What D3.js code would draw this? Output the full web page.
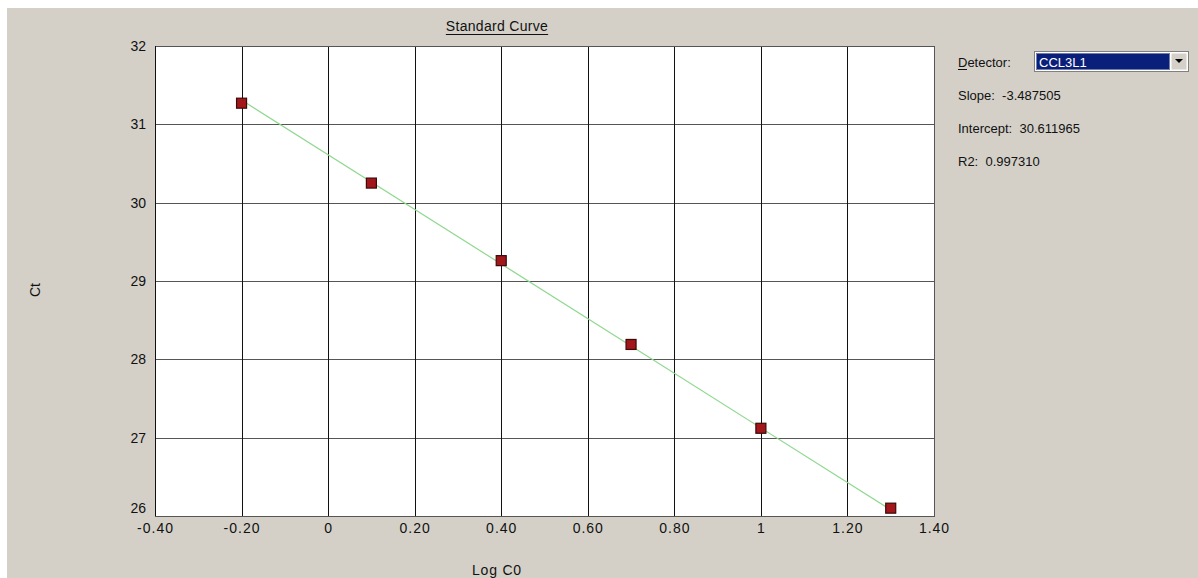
<!DOCTYPE html>
<html>
<head>
<meta charset="utf-8">
<script src="https://cdn.jsdelivr.net/npm/d3@7"></script>
<style>
	body { margin: 0; background: #fff; }
	text { font-family: "Liberation Sans", Arial, sans-serif; fill: #111; }
</style>
</head>
<body>
<div id="chart"></div>
<script>
// data
let logC0 = [-0.2, 0.1, 0.4, 0.7, 1.0, 1.3];
let ct = [31.27, 30.25, 29.26, 28.19, 27.12, 26.1];
let xTicks = [-0.4, -0.2, 0, 0.2, 0.4, 0.6, 0.8, 1, 1.2, 1.4];
let xTickLabels = ["-0.40", "-0.20", "0", "0.20", "0.40", "0.60", "0.80", "1", "1.20", "1.40"];
let yTicks = [26, 27, 28, 29, 30, 31, 32];
let yTickLabels = ["26", "27", "28", "29", "30", "31", "32"];
let slope = -3.487505;
let intercept = 30.611965;
let stats = ["Slope:  -3.487505", "Intercept:  30.611965", "R2:  0.997310"];
let detector = "CCL3L1";

function standardCurve() {
	let container = "#chart",
		window_w = 1198,
		window_h = 578;

	let margin = {top: 46, left: 155, right: 264, bottom: 62},
		width = window_w - (margin.left + margin.right),
		height = window_h - (margin.top + margin.bottom);

	let svg = d3.select(container)
		.append("svg")
		.attr("width", window_w)
		.attr("height", window_h)

	// grey window background
	svg.append("rect")
		.attr("x", 7)
		.attr("y", 8)
		.attr("width", window_w - 7)
		.attr("height", window_h - 8)
		.attr("fill", "#d4d0c8")

	let plot = svg.append("g")
		.attr("transform", "translate(" + margin.left + "," + margin.top + ")");

	let x = d3.scaleLinear()
		.domain([-0.4, 1.4])
		.range([0, width])

	let y = d3.scaleLinear()
		.domain([26, 32])
		.range([height, 0])

	plot.append("rect")
		.attr("width", width)
		.attr("height", height)
		.attr("fill", "#fff")

	// horizontal grid
	plot.append("g")
		.selectAll("line")
		.data(yTicks)
		.enter()
		.append("line")
		.attr("x1", 0)
		.attr("x2", width)
		.attr("y1", d => Math.round(y(d)) + 0.5)
		.attr("y2", d => Math.round(y(d)) + 0.5)
		.attr("stroke", "#555")

	// vertical grid
	plot.append("g")
		.selectAll("line")
		.data(xTicks)
		.enter()
		.append("line")
		.attr("x1", d => Math.round(x(d)) + 0.5)
		.attr("x2", d => Math.round(x(d)) + 0.5)
		.attr("y1", 0)
		.attr("y2", height)
		.attr("stroke", "#111")

	// frame
	plot.append("rect")
		.attr("x", 0.5)
		.attr("y", 0.5)
		.attr("width", width)
		.attr("height", height)
		.attr("fill", "none")
		.attr("stroke", "#555")
	plot.append("line")
		.attr("x1", 0.5).attr("x2", 0.5)
		.attr("y1", 0).attr("y2", height)
		.attr("stroke", "#111")

	// x axis labels
	let xAxis = d3.axisBottom(x)
		.tickValues(xTicks)
		.tickFormat((d, i) => xTickLabels[i])
		.tickSize(0)
		.tickPadding(7)
	let gx = plot.append("g")
		.attr("transform", "translate(0," + height + ")")
		.call(xAxis)
	gx.select(".domain").remove()
	gx.selectAll("text")
		.attr("font-size", 14)
		.attr("letter-spacing", "1px")
		.attr("font-family", "Liberation Sans, Arial, sans-serif")
		.attr("fill", "#111")

	// y axis labels
	let yAxis = d3.axisLeft(y)
		.tickValues(yTicks)
		.tickFormat((d, i) => yTickLabels[i])
		.tickSize(0)
		.tickPadding(9)
	let gy = plot.append("g").call(yAxis)
	gy.select(".domain").remove()
	gy.selectAll("text")
		.attr("font-size", 14)
		.attr("font-family", "Liberation Sans, Arial, sans-serif")
		.attr("fill", "#111")
	gy.selectAll(".tick").filter(d => d === 26).select("text").attr("dy", "-0.25em")

	// fitted line
	let xs = d3.extent(logC0)
	plot.append("line")
		.attr("x1", x(xs[0]))
		.attr("y1", y(slope * xs[0] + intercept))
		.attr("x2", x(xs[1]))
		.attr("y2", y(slope * xs[1] + intercept))
		.attr("stroke", "#8fd88f")
		.attr("stroke-width", 1.2)

	// points
	let size = 10;
	plot.append("g")
		.selectAll("rect")
		.data(logC0)
		.enter()
		.append("rect")
		.attr("x", d => x(d) - size / 2)
		.attr("y", (d, i) => y(ct[i]) - size / 2)
		.attr("width", size)
		.attr("height", size)
		.attr("fill", "#a3161a")
		.attr("stroke", "#3a0a0a")
		.attr("stroke-width", 1.2)

	// title
	let title = svg.append("text")
		.attr("x", 497)
		.attr("y", 31)
		.attr("text-anchor", "middle")
		.attr("font-size", 14)
		.attr("letter-spacing", "0.3px")
		.text("Standard Curve")
	let tb = title.node().getBBox()
	svg.append("line")
		.attr("x1", tb.x).attr("x2", tb.x + tb.width)
		.attr("y1", 34.5).attr("y2", 34.5)
		.attr("stroke", "#111")

	// axis titles
	svg.append("text")
		.attr("transform", "translate(40,290) rotate(-90)")
		.attr("text-anchor", "middle")
		.attr("font-size", 14)
		.text("Ct")
	svg.append("text")
		.attr("x", 497)
		.attr("y", 575)
		.attr("text-anchor", "middle")
		.attr("font-size", 14)
		.attr("letter-spacing", "0.8px")
		.text("Log C0")

	// right panel
	let panel = svg.append("g").attr("transform", "translate(958,0)")
	panel.append("text")
		.attr("x", 0).attr("y", 67)
		.attr("font-size", 13)
		.text("Detector:")
	panel.append("line")
		.attr("x1", 0).attr("x2", 9)
		.attr("y1", 69.5).attr("y2", 69.5)
		.attr("stroke", "#111")

	// combo box
	let combo = panel.append("g").attr("transform", "translate(76,51)")
	combo.append("rect")
		.attr("x", 0.5).attr("y", 0.5).attr("width", 154).attr("height", 20)
		.attr("fill", "#fff").attr("stroke", "#808080")
	combo.append("rect")
		.attr("x", 2).attr("y", 2).attr("width", 134).attr("height", 17)
		.attr("fill", "#0a1f7a")
	combo.append("rect")
		.attr("x", 2.5).attr("y", 2.5).attr("width", 133).attr("height", 16)
		.attr("fill", "none").attr("stroke", "#ddd").attr("stroke-dasharray", "1,1")
	combo.append("text")
		.attr("x", 5).attr("y", 15.5)
		.attr("font-size", 13)
		.style("fill", "#fff")
		.text(detector)
	combo.append("rect")
		.attr("x", 137).attr("y", 2).attr("width", 16).attr("height", 17)
		.attr("fill", "#d4d0c8").attr("stroke", "#fff")
	combo.append("path")
		.attr("d", "M141,8 L149,8 L145,12 Z")
		.attr("fill", "#000")

	panel.selectAll(".stat")
		.data(stats)
		.enter()
		.append("text")
		.attr("class", "stat")
		.attr("x", 0)
		.attr("y", (d, i) => 100 + i * 33)
		.attr("font-size", 13)
		.text(d => d)
		.attr("xml:space", "preserve")
		.style("white-space", "pre")
}

standardCurve();
</script>
</body>
</html>
